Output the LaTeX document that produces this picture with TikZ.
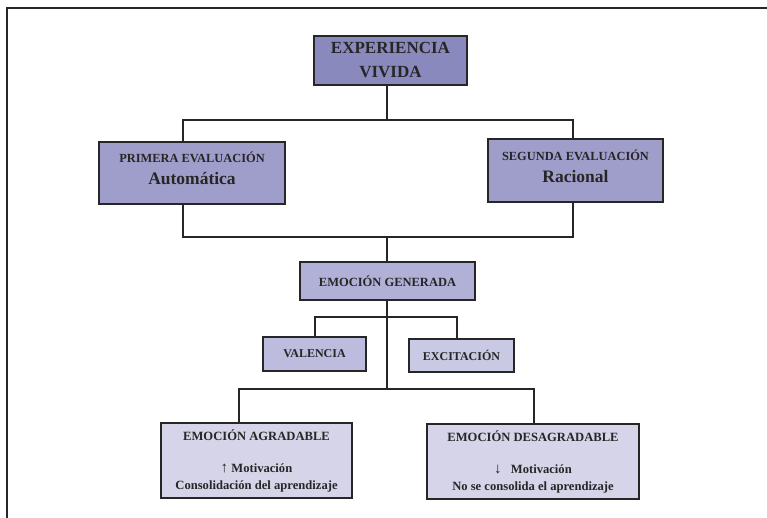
\documentclass[tikz,border=0pt]{standalone}
\usepackage{fontspec}
\setmainfont{Liberation Serif}
\definecolor{tono1}{HTML}{8A89BE}
\definecolor{tono2}{HTML}{9F9DC9}
\definecolor{tono3}{HTML}{B1B0D7}
\definecolor{tono4}{HTML}{BDBCDF}
\definecolor{tono5}{HTML}{CAC9E3}
\definecolor{tono6}{HTML}{D5D4E9}
\definecolor{tinta}{HTML}{262626}
\begin{document}
\begin{tikzpicture}[x=1pt,y=-1pt,
	caja/.style={draw=tinta,line width=1.2pt,inner sep=0pt,align=center,text=tinta},
	cable/.style={draw=tinta,line width=1.6pt}]
	\useasboundingbox (0,0) rectangle (767,518);
	\draw[tinta,line width=1.4pt] (7,518) -- (7,8) -- (767,8);
	% cajas
	\node[caja,fill=tono1,minimum width=153pt,minimum height=49pt,
		font=\bfseries\fontsize{17}{24}\selectfont] (exp) at (390.5,60.5)
		{EXPERIENCIA\\VIVIDA};
	\node[caja,fill=tono2,minimum width=186pt,minimum height=62pt,text depth=9pt,
		font=\bfseries\fontsize{12.4}{22}\selectfont] (prim) at (192,173)
		{PRIMERA EVALUACIÓN\\{\fontsize{17.5}{22}\selectfont Automática}};
	\node[caja,fill=tono2,minimum width=175pt,minimum height=63pt,text depth=9pt,
		font=\bfseries\fontsize{12.4}{22}\selectfont] (seg) at (575.5,170.5)
		{SEGUNDA EVALUACIÓN\\{\fontsize{17.5}{22}\selectfont Racional}};
	\node[caja,fill=tono3,minimum width=175pt,minimum height=38pt,
		font=\bfseries\fontsize{12.5}{15}\selectfont] (gen) at (387.5,281)
		{EMOCIÓN GENERADA};
	\node[caja,fill=tono4,minimum width=103pt,minimum height=34pt,
		font=\bfseries\fontsize{12}{14}\selectfont] (val) at (314.5,354)
		{VALENCIA};
	\node[caja,fill=tono5,minimum width=105pt,minimum height=33pt,
		font=\bfseries\fontsize{12}{14}\selectfont] (exc) at (461.5,355.5)
		{EXCITACIÓN};
	\node[caja,fill=tono6,minimum width=191pt,minimum height=75pt,
		font=\bfseries\fontsize{12.6}{17}\selectfont] (agr) at (256.5,460.5)
		{{\fontsize{12.6}{17}\selectfont EMOCIÓN AGRADABLE}\\[15pt]
		 {\mdseries\fontsize{15}{17}\selectfont ↑} Motivación\\
		 Consolidación del aprendizaje};
	\node[caja,fill=tono6,minimum width=212pt,minimum height=75pt,
		font=\bfseries\fontsize{12.6}{17}\selectfont] (des) at (533,461.5)
		{{\fontsize{12.6}{17}\selectfont EMOCIÓN DESAGRADABLE}\\[15pt]
		 {\mdseries\fontsize{15}{17}\selectfont ↓}\hspace{6pt} Motivación\\
		 No se consolida el aprendizaje};
	% uniones
	\coordinate (t) at (387,120);
	\coordinate (tl) at (183,120);
	\coordinate (tr) at (573,120);
	\coordinate (bl) at (183,237);
	\coordinate (br) at (573,237);
	\coordinate (bm) at (387,237);
	\coordinate (vl) at (315,317);
	\coordinate (vr) at (457,317);
	\coordinate (m) at (387,389);
	\coordinate (ml) at (239,389);
	\coordinate (mr) at (534,389);
	\draw[cable] (exp.south -| t) -- (t);
	\draw[cable] (prim.north -| tl) -- (tl) -- (tr) -- (seg.north -| tr);
	\draw[cable] (prim.south -| bl) -- (bl) -- (br) -- (seg.south -| br);
	\draw[cable] (bm) -- (gen.north -| bm);
	\draw[cable] (gen.south -| m) -- (m);
	\draw[cable] (val.north -| vl) -- (vl) -- (vr) -- (exc.north -| vr);
	\draw[cable] (agr.north -| ml) -- (ml) -- (mr) -- (des.north -| mr);
\end{tikzpicture}
\end{document}
